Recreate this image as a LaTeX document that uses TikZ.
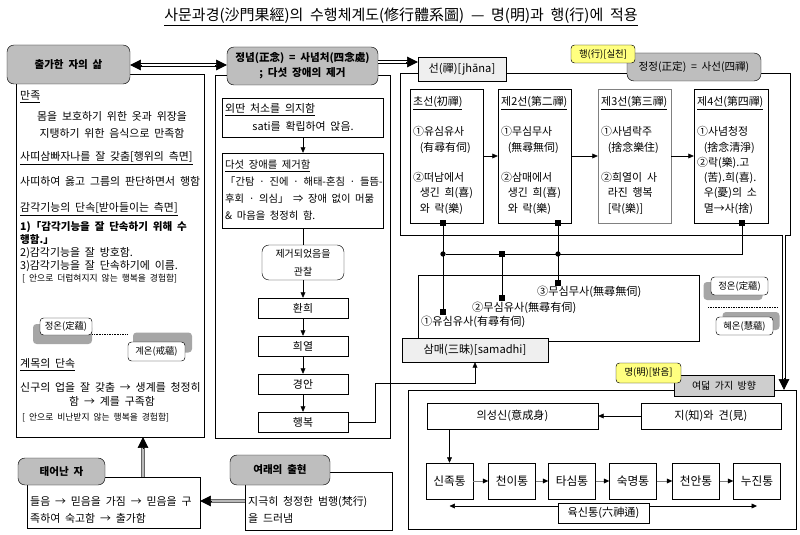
\documentclass[tikz,border=0pt]{standalone}
\usepackage{fontspec}
\setmainfont{Noto Sans CJK KR}[WordSpace=2]
\usetikzlibrary{arrows.meta,calc}
\definecolor{hdGray}{HTML}{BEBEBE}
\definecolor{tagGray}{HTML}{EFEFEF}
\definecolor{tagYellow}{HTML}{FFFF80}
\definecolor{shGray}{HTML}{A6A6A6}
\newlength\pxu
\setlength\pxu{0.03cm}

\begin{document}
\begin{tikzpicture}[x=0.03cm,y=-0.03cm,
  bx/.style 2 args={draw,minimum width=#1\pxu,minimum height=#2\pxu,inner sep=0pt},
  hd/.style={fill=hdGray,rounded corners=6pt,align=center,font=\fontsize{9}{13}\selectfont\bfseries},
  tag/.style={fill=tagGray,font=\fontsize{9.5}{12}\selectfont},
  ylw/.style={fill=tagYellow,rounded corners=3pt,font=\fontsize{8}{10}\selectfont},
  txt/.style={inner sep=0pt,font=\fontsize{9.3}{13}\selectfont},
  sml/.style={inner sep=0pt,font=\fontsize{7.5}{9}\selectfont},
  big/.style={font=\fontsize{9.5}{13}\selectfont},
  arr/.style={-{Triangle[length=4.5pt,width=4pt]}},
  garr/.style={draw=gray,-{Triangle[length=4.5pt,width=4pt,color=black]}},
  bigarr/.style={-{Triangle[length=9pt,width=9pt,color=black]}},
  dbl/.style={double,double distance=1.6pt,line width=0.5pt},
  gdbl/.style={draw=gray!80!black,double=gray!55,double distance=1.8pt,line width=0.6pt},
  sq/.style={fill=black,minimum size=4.5pt,inner sep=0pt},
  jn/.style={fill=black,circle,minimum size=4.5pt,inner sep=0pt},
  onr/.style={draw,fill=white,rounded corners=3pt,minimum width=57\pxu,minimum height=18\pxu,inner sep=0pt,font=\fontsize{8}{10}\selectfont},
  shd/.style={fill=shGray,rounded corners=3pt,minimum width=59\pxu,minimum height=20\pxu}]
\fill[white] (0,0) rectangle (800,535);
\useasboundingbox (0,0) rectangle (800,535);
\node[font=\fontsize{12.8}{15}\selectfont] (title) at (401,17) {\underline{사문과경(沙門果經)의 수행체계도(修行體系圖) — 명(明)과 행(行)에 적용}};

\node[bx={188}{363}] (lifeBox) at (110,255.5) {};
\node[hd,bx={123}{39}] (lifeHd) at (68.5,64.5) {출가한 자의 삶};
\node[txt,anchor=west] (l1) at (20,97) {\underline{만족}};
\node[txt] (l2) at (112,116) {몸을 보호하기 위한 옷과 위장을};
\node[txt] (l3) at (112,133) {지탱하기 위한 음식으로 만족함};
\node[txt,anchor=west] (l4) at (20,158) {\underline{사띠삼빠자나를 잘 갖춤[행위의 측면]}};
\node[txt,anchor=west] (l5) at (20,181) {사띠하여 옳고 그름의 판단하면서 행함};
\node[txt,anchor=west] (l6) at (20,209) {\underline{감각기능의 단속[받아들이는 측면]}};
\node[txt,anchor=west,font=\fontsize{9}{13}\selectfont\bfseries] (l7) at (20,227) {1)「감각기능을 잘 단속하기 위해 수};
\node[txt,anchor=west,font=\fontsize{9}{13}\selectfont\bfseries] (l8) at (20,240) {행함.」};
\node[txt,anchor=west] (l9) at (20,253) {2)감각기능을 잘 방호함.};
\node[txt,anchor=west] (l10) at (20,266) {3)감각기능을 잘 단속하기에 이름.};
\node[sml,anchor=west] (l11) at (22,279) {[ 안으로 더럽혀지지 않는 행복을 경험함]};
\node[shd] (shA) at (62.5,334) {};
\node[shd] (shB) at (162.5,342.5) {};
\node[onr,minimum width=52\pxu,minimum height=17\pxu] (jeongL) at (66,326.5) {정온(定蘊)};
\node[onr,minimum height=19\pxu] (gyeL) at (156.5,351.5) {계온(戒蘊)};
\draw[densely dotted] (shA.east) -- (shA.east -| gyeL.west);
\node[txt,anchor=west] (l12) at (20,365) {\underline{계목의 단속}};
\node[txt,anchor=west] (l13) at (20,387) {신구의 업을 잘 갖춤 → 생계를 청정히};
\node[txt] (l14) at (112,401) {함 → 계를 구족함};
\node[sml,anchor=west] (l15) at (22,418) {[ 안으로 비난받지 않는 행복을 경험함]};

\node[bx={173}{51}] (bornBox) at (113.5,502.5) {};
\node[hd,bx={87}{27}] (bornHd) at (61.5,471.5) {태어난 자};
\node[txt,anchor=north west,align=left,font=\fontsize{9.3}{15}\selectfont] (bornT) at (30,496) {들음 → 믿음을 가짐 → 믿음을 구\\족하여 숙고함 → 출가함};
\node[bx={147}{58}] (tathBox) at (318.5,501) {};
\node[hd,bx={100}{30}] (tathHd) at (280,470) {여래의 출현};
\node[txt,anchor=north west,align=left,font=\fontsize{9.3}{15}\selectfont] (tathT) at (248,496) {지극히 청정한 범행(梵行)\\을 드러냄};
\coordinate (upX) at (143,0);
\coordinate (bA) at (bornBox.north -| upX);
\coordinate (bB) at (lifeBox.south -| upX);
\draw[gdbl,shorten >=8pt] (bA) -- (bB);
\draw[bigarr] ($(bB)!10pt!(bA)$) -- (bB);
\coordinate (cA) at (tathBox.west);
\coordinate (cB) at (tathBox.west -| bornBox.east);
\draw[gdbl,shorten >=8pt] (cA) -- (cB);
\draw[bigarr] ($(cB)!10pt!(cA)$) -- (cB);

\node[bx={175}{363}] (mindBox) at (302.5,256.5) {};
\node[hd,bx={151}{38}] (mindHd) at (302.5,66) {정념(正念) = 사념처(四念處)\\; 다섯 장애의 제거};
\node[bx={161}{39}] (seclBox) at (303,117.5) {};
\node[txt,anchor=west] (seclA) at (225,110) {\underline{외딴 처소를 의지함}};
\node[txt] (seclB) at (303,126) {sati를 확립하여 앉음.};
\node[bx={161}{75}] (hindBox) at (303,190.5) {};
\node[txt,anchor=north west,align=left,font=\fontsize{8.8}{14.5}\selectfont] (hindT) at (225,160) {\underline{다섯 장애를 제거함}\\「간탐 · 진에 · 해태-혼침 · 들뜸-\\후회 · 의심」 ⇒ 장애 없이 머묾\\\& 마음을 청정히 함.};
\node[bx={82}{35},rounded corners=6pt,align=center,font=\fontsize{8.5}{15}\selectfont] (obsBox) at (303,262.5) {제거되었음을\\관찰};
\node[bx={90}{20},txt] (joyBox) at (303,308) {환희};
\node[bx={90}{20},txt] (rapBox) at (303,346) {희열};
\node[bx={90}{20},txt] (calmBox) at (303,384) {경안};
\node[bx={90}{20},txt] (hapBox) at (303,422) {행복};
\draw[arr] (seclBox) -- (hindBox);
\draw (hindBox) -- (obsBox);
\draw[arr] (obsBox) -- (joyBox);
\draw[arr] (joyBox) -- (rapBox);
\draw[arr] (rapBox) -- (calmBox);
\draw[arr] (calmBox) -- (hapBox);

\node[bx={390}{162}] (jhanaBox) at (595,154) {};
\node[bx={88}{24},tag] (jhanaTag) at (462,69) {선(禪)[jhāna]};
\node[hd,bx={134}{28},font=\fontsize{9}{13}\selectfont] (rightHd) at (694,67) {정정(正定) = 사선(四禪)};
\node[ylw,bx={64}{18}] (actTag) at (603,54) {행(行)[실천]};
\coordinate (topL) at (0,65);
\coordinate (topR) at (0,62);
\coordinate (aL) at (lifeHd.east |- topL);
\coordinate (aR) at (mindHd.west |- topL);
\draw[dbl,shorten <=8pt,shorten >=8pt] (aL) -- (aR);
\draw[bigarr] ($(aL)!10pt!(aR)$) -- (aL);
\draw[bigarr] ($(aR)!10pt!(aL)$) -- (aR);
\coordinate (eL) at (mindHd.east |- topR);
\coordinate (eR) at (jhanaTag.west |- topR);
\draw[dbl,shorten >=8pt] (eL) -- (eR);
\draw[bigarr] ($(eR)!10pt!(eL)$) -- (eR);

\node[bx={73}{134}] (j1) at (446.5,156) {};
\node[bx={73}{134}] (j2) at (534.5,156) {};
\node[bx={73}{134},draw=gray] (j3) at (634.5,156) {};
\node[bx={74}{134}] (j4) at (731,156) {};
\node[txt,anchor=north west,align=left] (j1t) at (413,96) {\underline{초선(初禪)}\\[13pt]①유심유사\\\hspace*{0.6em}(有尋有伺)\\[13pt]②떠남에서\\\hspace*{0.6em}생긴 희(喜)\\\hspace*{0.6em}와 락(樂)};
\node[txt,anchor=north west,align=left] (j2t) at (501,96) {\underline{제2선(第二禪)}\\[13pt]①무심무사\\\hspace*{0.6em}(無尋無伺)\\[13pt]②삼매에서\\\hspace*{0.6em}생긴 희(喜)\\\hspace*{0.6em}와 락(樂)};
\node[txt,anchor=north west,align=left] (j3t) at (601,96) {\underline{제3선(第三禪)}\\[13pt]①사념락주\\\hspace*{0.6em}(捨念樂住)\\[13pt]②희열이 사\\\hspace*{0.6em}라진 행복\\\hspace*{0.6em}[락(樂)]};
\node[txt,anchor=north west,align=left] (j4t) at (697,96) {\underline{제4선(第四禪)}\\[13pt]①사념청정\\\hspace*{0.6em}(捨念清淨)\\②락(樂).고\\\hspace*{0.6em}(苦).희(喜).\\\hspace*{0.6em}우(憂)의 소\\\hspace*{0.6em}멸→사(捨)};
\draw[arr] (j1) -- (j2);
\draw[arr] (j2) -- (j3);
\draw[arr] (j3) -- (j4);

\node[bx={281}{66}] (samBox) at (558.5,308) {};
\node[bx={146}{24},tag] (samTag) at (475,350) {삼매(三昧)[samadhi]};
\node[txt,big,anchor=west] (m3) at (537,292) {③무심무사(無尋無伺)};
\node[txt,big,anchor=west] (m2) at (472,308) {②무심유사(無尋有伺)};
\node[txt,big,anchor=west] (m1) at (421,322) {①유심유사(有尋有伺)};
\node[sq] (q1) at (443,223) {};
\node[sq] (q2) at (558,223) {};
\node[sq] (q4) at (742,223) {};
\node[sq] (r1) at (443,312) {};
\node[sq] (r2) at (502,298) {};
\node[sq] (r3) at (558,283) {};
\node[sq] (mid) at (502,254) {};
\node[jn] (d1) at (443,254) {};
\node[jn] (d2) at (558,254) {};
\draw (q1) -- (r1);
\draw (q2) -- (r3);
\draw (q4) |- (d1);
\draw (mid) -- (r2);
\coordinate (bendA) at (375,383);
\draw[arr] (hapBox.east) -| (bendA) -| (samTag.south);

\node[shd,minimum height=18\pxu] (shC) at (733,291) {};
\node[onr] (jeongR) at (739.5,286) {정온(定蘊)};
\node[shd,minimum width=57\pxu,minimum height=18\pxu] (shD) at (751,321) {};
\node[onr] (hyeR) at (744.5,326) {혜온(慧蘊)};
\draw[densely dotted] (708,307) -- (778,307);

\node[bx={388}{139}] (bigBox) at (602,459.5) {};
\node[bx={100}{21},fill=hdGray!75,font=\fontsize{8.5}{10}\selectfont] (eightHd) at (724,385.5) {여덟 가지 방향};
\node[ylw,bx={65}{20}] (brightTag) at (648.5,373) {명(明)[밝음]};
\coordinate (dnX) at (784,0);
\coordinate (fA) at (jhanaBox.south -| dnX);
\coordinate (fB) at (bigBox.north -| dnX);
\draw[dbl,shorten >=8pt] (fA) -- (fB);
\draw[bigarr] ($(fB)!10pt!(fA)$) -- (fB);
\node[bx={171}{26},big] (mindMade) at (512.5,416) {의성신(意成身)};
\node[bx={140}{26},big] (knowSee) at (711,416) {지(知)와 견(見)};
\draw[arr] (knowSee) -- (mindMade);
\foreach \n/\x/\t in {1/449.5/신족통,2/512/천이통,3/572/타심통,4/633/숙명통,5/696/천안통,6/757/누진통}
  \node[bx={47}{36},font=\fontsize{10}{12}\selectfont] (s\n) at (\x,481) {\t};
\foreach \a/\b in {1/2,2/3,3/4,4/5,5/6} \draw[garr] (s\a) -- (s\b);
\draw[arr] (mindMade.south -| s1) -- (s1);
\coordinate (sixY) at (0,506);
\draw[{Triangle[length=4.5pt,width=4pt]}-{Triangle[length=4.5pt,width=4pt]}] (s1.south |- sixY) -- (s6.south |- sixY);
\node[bx={91}{20},fill=white,big] (sixTag) at (603.5,513) {육신통(六神通)};
\end{tikzpicture}
\end{document}
